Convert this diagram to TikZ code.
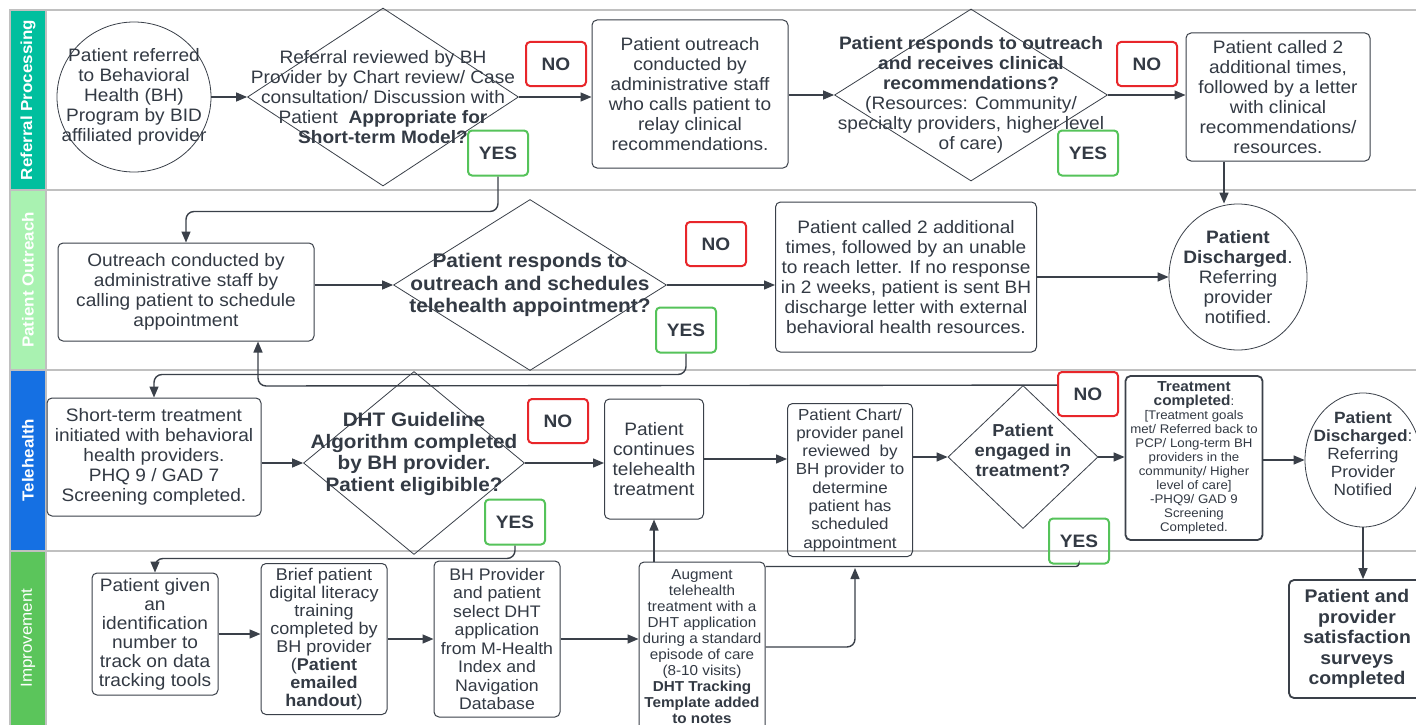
\documentclass[tikz,border=0pt]{standalone}
\usepackage{fontspec}
\setmainfont{Liberation Sans}[FakeStretch=1.06]
\usetikzlibrary{shapes.geometric,arrows.meta}
\definecolor{tc}{HTML}{333A44}
\definecolor{lc}{HTML}{3A4049}
\definecolor{lanec}{HTML}{C0C0C0}
\definecolor{rp}{HTML}{00BF9E}
\definecolor{po}{HTML}{A9F2B1}
\definecolor{th}{HTML}{1570E3}
\definecolor{im}{HTML}{5BC55B}
\definecolor{nored}{HTML}{E8262A}
\definecolor{yesgr}{HTML}{55C35A}
\newcommand\myfs[2]{\fontsize{#1}{#2}\selectfont}
\begin{document}
\begin{tikzpicture}[x=1pt,y=-1pt,
 box/.style={draw=lc, line width=1pt, rounded corners=5pt, align=center, inner sep=0pt, text=tc, font=\myfs{18}{20}},
 shp/.style={draw=lc, line width=0.8pt, inner sep=0pt},
 lbl/.style={align=center, text=tc, inner sep=0pt},
 nobox/.style={draw=nored, line width=2pt, rounded corners=4pt, minimum width=60, minimum height=44, inner sep=0pt, font=\bfseries\myfs{18}{20}, text=tc},
 yesbox/.style={draw=yesgr, line width=2pt, rounded corners=4pt, minimum width=60, minimum height=45, inner sep=0pt, font=\bfseries\myfs{18}{20}, text=tc},
 arr/.style={draw=lc, line width=1.4pt, -{Triangle[length=11pt,width=9pt]}},
 conn/.style={draw=lc, line width=1.4pt},
 lanel/.style={rotate=90, text=white, inner sep=0pt, font=\bfseries\myfs{16}{20}},
]
\useasboundingbox (0,0) rectangle (1416,725);
\fill[white] (0,0) rectangle (1416,725);
% lanes
\fill[rp] (10,10) rectangle (46,190);
\fill[po] (10,190) rectangle (46,370);
\fill[th] (10,370) rectangle (46,551);
\fill[im] (10,551) rectangle (46,725);
\draw[lanec, line width=1.5pt] (1416,10) -- (10,10) -- (10,725);
\foreach \yy in {190,370,551} \draw[lanec,line width=1.5pt] (10,\yy) -- (1416,\yy);
\draw[lanec,line width=1.5pt] (46,10) -- (46,725);
\node[lanel] (L1) at (28,100) {Referral Processing};
\node[lanel] (L2) at (28,280) {Patient Outreach};
\node[lanel] (L3) at (28,460) {Telehealth};
\node[lanel, font=\myfs{16}{20}] (L4) at (28,638) {Improvement};

% lane 1
\node[shp, ellipse, minimum width=154, minimum height=150,
  label={[lbl,font=\myfs{18}{20}]center:{Patient referred\\to Behavioral\\Health (BH)\\Program by BID\\affiliated provider}}] (c1) at (134,97) {};
\node[shp, diamond, minimum width=271, minimum height=178,
  label={[lbl,font=\myfs{18}{20}]center:{Referral reviewed by BH\\Provider by Chart review/ Case\\consultation/ Discussion with\\Patient\ \ \textbf{Appropriate for}\\\textbf{Short-term Model?}}}] (d1) at (383,97) {};
\node[nobox] (no1) at (556,64) {NO};
\node[yesbox] (yes1) at (498,153) {YES};
\node[box, minimum width=196, minimum height=148] (b2) at (690,94) {Patient outreach\\conducted by\\administrative staff\\who calls patient to\\relay clinical\\recommendations.};
\node[shp, diamond, minimum width=273, minimum height=172,
  label={[lbl,font=\myfs{18}{20}]center:{\textbf{Patient responds to outreach}\\\textbf{and receives clinical}\\\textbf{recommendations?}\\(Resources: Community/\\specialty providers, higher level\\of care)}}] (d2) at (971,95) {};
\node[nobox] (no2) at (1147,64) {NO};
\node[yesbox] (yes2) at (1088,153) {YES};
\node[box, minimum width=184, minimum height=128] (b3) at (1278,97) {Patient called 2\\additional times,\\followed by a letter\\with clinical\\recommendations/\\resources.};

% lane 2
\node[box, minimum width=256, minimum height=98] (b4) at (186,292) {Outreach conducted by\\administrative staff by\\calling patient to schedule\\appointment};
\node[shp, diamond, minimum width=273, minimum height=171,
  label={[lbl,font=\bfseries\myfs{19.7}{22.5}]center:{Patient responds to\\outreach and schedules\\telehealth appointment?}}] (d3) at (530,285) {};
\node[nobox] (no3) at (716,244) {NO};
\node[yesbox] (yes3) at (686,330) {YES};
\node[box, minimum width=261, minimum height=150] (b5) at (906,277) {Patient called 2 additional\\times, followed by an unable\\to reach letter. If no response\\in 2 weeks, patient is sent BH\\discharge letter with external\\behavioral health resources.};
\node[shp, ellipse, minimum width=138, minimum height=146,
  label={[lbl,font=\myfs{18}{20}]center:{\textbf{Patient}\\\textbf{Discharged}.\\Referring\\provider\\notified.}}] (c2) at (1238,277) {};

% lane 3
\node[box, minimum width=214, minimum height=118] (b6) at (154,457) {Short-term treatment\\initiated with behavioral\\health providers.\\PHQ 9 / GAD 7\\Screening completed.};
\node[shp, diamond, minimum width=221, minimum height=183,
  label={[lbl,font=\bfseries\myfs{19.5}{21.5},yshift=9pt]center:{DHT Guideline\\Algorithm completed\\by BH provider.\\Patient eligibible?}}] (d4) at (414,463) {};
\node[nobox] (no4) at (558,421) {NO};
\node[yesbox] (yes4) at (515,522) {YES};
\node[box, minimum width=99, minimum height=120] (b7) at (654,459) {Patient\\continues\\telehealth\\treatment};
\node[box, minimum width=125, minimum height=153, font=\myfs{16}{18.3}] (b8) at (850,480) {Patient Chart/\\provider panel\\reviewed\ \ by\\BH provider to\\determine\\patient has\\scheduled\\appointment};
\node[shp, diamond, minimum width=150, minimum height=143,
  label={[lbl,font=\bfseries\myfs{17.3}{20},yshift=7pt]center:{Patient\\engaged in\\treatment?}}] (d5) at (1023,457) {};
\node[nobox] (no5) at (1088,394) {NO};
\node[yesbox] (yes5) at (1079,541) {YES};
\node[box, line width=1.8pt, minimum width=137, minimum height=164, font=\myfs{12.5}{14}] (b9) at (1194,458) {\textbf{\myfs{14.5}{16}Treatment}\\\textbf{\myfs{14.5}{16}completed}:\\{[}Treatment goals\\met/ Referred back to\\PCP/ Long-term BH\\providers in the\\community/ Higher\\level of care{]}\\-PHQ9/ GAD 9\\Screening\\Completed.};
\node[shp, ellipse, minimum width=116, minimum height=134,
  label={[lbl,font=\myfs{16.3}{18},yshift=6pt]center:{\textbf{Patient}\\\textbf{Discharged}:\\Referring\\Provider\\Notified}}] (c3) at (1363,460) {};

% lane 4
\node[box, line width=1.8pt, minimum width=136, minimum height=118, font=\bfseries\myfs{18.3}{20.5}] (b10) at (1357,639) {Patient and\\provider\\satisfaction\\surveys\\completed};
\node[box, minimum width=126, minimum height=122, font=\myfs{18}{19}] (b11) at (155,634) {Patient given\\an\\identification\\number to\\track on data\\tracking tools};
\node[box, minimum width=126, minimum height=151, font=\myfs{17}{18}] (b12) at (324,639) {Brief patient\\digital literacy\\training\\completed by\\BH provider\\(\textbf{Patient}\\\textbf{emailed}\\\textbf{handout})};
\node[box, minimum width=126, minimum height=156, font=\myfs{16.7}{18.5}] (b13) at (497,639) {BH Provider\\and patient\\select DHT\\application\\from M-Health\\Index and\\Navigation\\Database};
\node[box, minimum width=126, minimum height=170, font=\myfs{14.4}{16}] (b14) at (702,647) {Augment\\telehealth\\treatment with a\\DHT application\\during a standard\\episode of care\\(8-10 visits)\\\textbf{DHT Tracking}\\\textbf{Template added}\\\textbf{to notes}};

% connectors
\draw[arr] (c1.east) -- (d1.west);
\draw[arr] (d1.east) -- (b2.west |- d1.east);
\draw[arr] (b2.east |- d2.west) -- (d2.west);
\draw[arr] (d2.east) -- (b3.west |- d2.east);
\draw[arr] ([xshift=-54pt]b3.south) -- ([xshift=-54pt]b3.south |- c2.north);
\draw[arr, rounded corners=8pt] (yes1.south) -- ++(0,35) -| (b4.north);
\draw[arr] (b4.east |- d3.west) -- (d3.west);
\draw[arr] (d3.east) -- (b5.west |- d3.east);
\draw[arr] (b5.east |- c2.west) -- (c2.west);
\draw[arr, rounded corners=8pt] (yes3.south) -- ++(0,21) -| (b6.north);
\coordinate (n5) at (258,386);
\draw[arr, rounded corners=8pt] (no5.west |- d5.north) -- (n5) -- (n5 |- b4.south);
\draw[arr] (b6.east |- d4.west) -- (d4.west);
\draw[arr] (d4.east) -- (b7.west |- d4.east);
\draw[arr] (b7.east) -- (b7.east -| b8.west);
\draw[arr] (b8.east |- d5.west) -- (d5.west);
\draw[arr] (d5.east) -- (d5.east -| b9.west);
\draw[arr] (b9.east |- c3.west) -- (c3.west);
\draw[arr] (c3.south) -- (c3.south |- b10.north);
\draw[arr, rounded corners=8pt] (yes4.south) -- ++(0,13) -| (b11.north);
\draw[arr] (b11.east) -- (b11.east -| b12.west);
\draw[arr] (b12.east) -- (b12.east -| b13.west);
\draw[arr] (b13.east) -- (b13.east -| b14.west);
\draw[arr] (b7.south |- b14.north) -- (b7.south);
\draw[arr, rounded corners=8pt, shorten >=11pt] (b14.east) -| ([xshift=5pt]b8.south);
\draw[conn, rounded corners=3pt] (yes5.south) |- ([yshift=-5pt]b14.north east);
\end{tikzpicture}
\end{document}
